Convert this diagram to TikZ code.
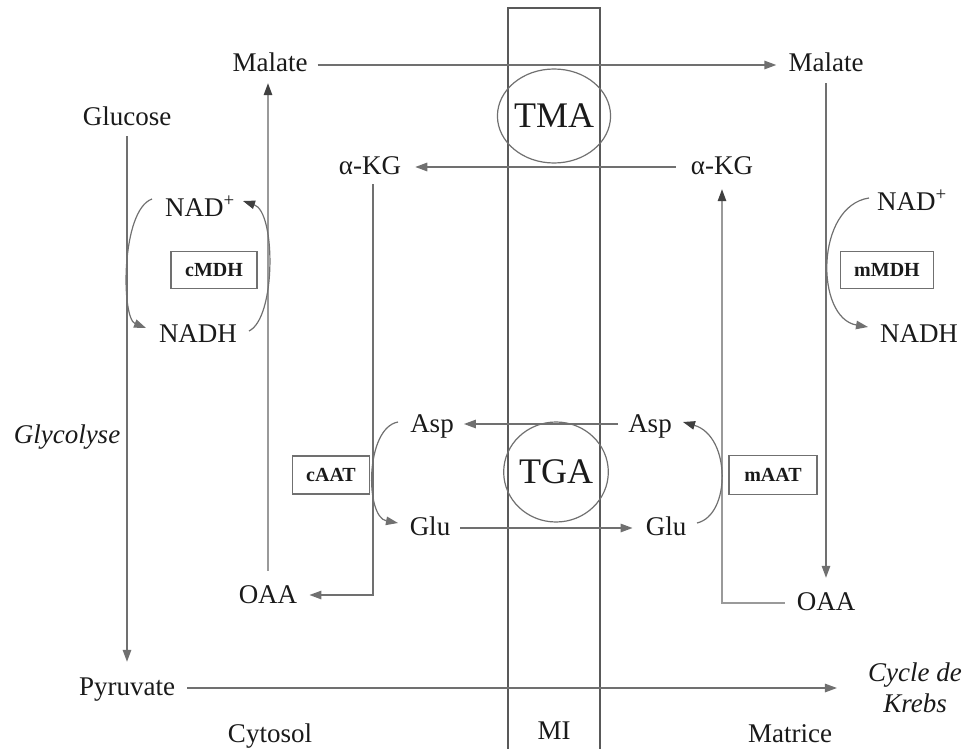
\documentclass[tikz,border=0pt]{standalone}
\usepackage{fontspec}
\setmainfont{Liberation Serif}
\usetikzlibrary{arrows.meta,calc,shapes.geometric}
\definecolor{lngray}{HTML}{707070}
\definecolor{ltgray}{HTML}{9A9A9A}
\definecolor{txt}{HTML}{1A1A1A}
\begin{document}
\begin{tikzpicture}[x=1pt,y=-1pt,
  lbl/.style={font=\fontsize{27}{32}\selectfont, text=txt, inner sep=0pt, text height=18pt, text depth=0pt},
  ilbl/.style={font=\itshape\fontsize{27}{31}\selectfont, text=txt, inner sep=0pt, align=center},
  enz/.style={draw=lngray, line width=1.2pt, font=\bfseries\fontsize{20}{24}\selectfont, text=txt, inner sep=0pt},
  trans/.style={draw=lngray, line width=1.2pt, ellipse, inner sep=0pt, font=\fontsize{36}{40}\selectfont, text=txt},
  ln/.style={draw=lngray, line width=1.4pt},
  lnl/.style={draw=ltgray, line width=1.4pt},
  arr/.style={-{Triangle[length=12pt,width=8.5pt,color=lngray]}},
  darr/.style={-{Triangle[length=12pt,width=8.5pt,color=black!75]}},
  crv/.style={draw=lngray, line width=1.2pt}]
\useasboundingbox (0,0) rectangle (966,749);

% membrane
\draw[draw=black!65, line width=1.2pt] (508,749) -- (508,8) -- (600,8) -- (600,749);
\node[trans, minimum width=92pt, minimum height=94pt] (tma) at (554,116) {TMA};
\node[trans, minimum width=92pt, minimum height=100pt] (tga) at (556,472) {TGA};

% labels
\node[lbl] (malL) at (270,63) {Malate};
\node[lbl] (malR) at (826,63) {Malate};
\node[lbl] (gluc) at (127,116) {Glucose};
\node[lbl] (akgL) at (370,165) {α-KG};
\node[lbl] (akgR) at (722,165) {α-KG};
\node[lbl] (nadpL) at (200,207) {NAD\textsuperscript{+}};
\node[lbl] (nadhL) at (198,333) {NADH};
\node[lbl] (nadpR) at (912,201) {NAD\textsuperscript{+}};
\node[lbl] (nadhR) at (919,333) {NADH};
\node[lbl] (aspL) at (432,423) {Asp};
\node[lbl] (gluL) at (430,526) {Glu};
\node[lbl] (aspR) at (650,423) {Asp};
\node[lbl] (gluR) at (666,526) {Glu};
\node[lbl] (oaaL) at (268,594) {OAA};
\node[lbl] (oaaR) at (826,601) {OAA};
\node[lbl] (pyr) at (127,686) {Pyruvate};
\node[ilbl] (krebs) at (915,688) {Cycle de\\Krebs};
\node[ilbl] (glyco) at (67,437) {Glycolyse};
\node[lbl] (cyto) at (270,733) {Cytosol};
\node[lbl] (mi) at (554,730) {MI};
\node[lbl] (matr) at (790,733) {Matrice};

% enzymes
\node[enz, minimum width=86pt, minimum height=37pt] (cmdh) at (214,270) {cMDH};
\node[enz, minimum width=93pt, minimum height=37pt] (mmdh) at (887,270) {mMDH};
\node[enz, minimum width=77pt, minimum height=38pt] (caat) at (331,475) {cAAT};
\node[enz, minimum width=88pt, minimum height=39pt] (maat) at (773,475) {mAAT};

% straight connectors
\draw[ln,arr,shorten <=10pt,shorten >=12pt] ([yshift=-2pt]malL.east) -- ([yshift=-2pt]malR.west);
\draw[lnl,darr,shorten <=14pt,shorten >=11pt] (oaaL.north) -- (oaaL.north |- malL.south);
\draw[ln,arr,shorten <=11pt,shorten >=15pt] (gluc.south) -- (pyr.north);
\draw[ln,arr,shorten <=12pt,shorten >=31pt] ([yshift=-2pt]pyr.east) -- ([yshift=-2pt]pyr.east -| krebs.west);
\draw[ln,arr,shorten <=15pt,shorten >=14pt] ([yshift=-2pt]akgR.west) -- ([yshift=-2pt]akgL.east);
\draw[ln,arr,shorten <=10pt,shorten >=12pt] ([xshift=3pt]akgL.south) |- ([yshift=-1pt]oaaL.east);
\draw[ln,arr,shorten <=10pt,shorten >=10pt] ([yshift=-1pt]aspR.west) -- ([yshift=-1pt]aspL.east);
\draw[ln,arr,shorten <=10pt,shorten >=13pt] ([yshift=-2pt]gluL.east) -- ([yshift=-2pt]gluR.west);
\draw[lnl,darr,shorten <=12pt,shorten >=15pt] ([yshift=-2pt]oaaR.west) -| (akgR.south);
\draw[ln,arr,shorten <=11pt,shorten >=14pt] (malR.south) -- (oaaR.north);

% curved connectors
\coordinate (c1s) at (152,199); \coordinate (c1e) at (146,328);
\coordinate (c2s) at (249,331); \coordinate (c2e) at (243,201);
\coordinate (c3s) at (869,198); \coordinate (c3e) at (868,327);
\coordinate (c4s) at (398,422); \coordinate (c4e) at (398,523);
\coordinate (c5s) at (697,523); \coordinate (c5e) at (683,422);
\draw[crv,arr] (c1s) .. controls (121,210) and (121,318) .. (c1e);
\draw[crv,darr] (c2s) .. controls (276,318) and (276,212) .. (c2e);
\draw[crv,arr] (c3s) .. controls (815,206) and (815,318) .. (c3e);
\draw[crv,arr] (c4s) .. controls (365,428) and (365,517) .. (c4e);
\draw[crv,darr] (c5s) .. controls (731,515) and (731,436) .. (c5e);
\end{tikzpicture}
\end{document}
